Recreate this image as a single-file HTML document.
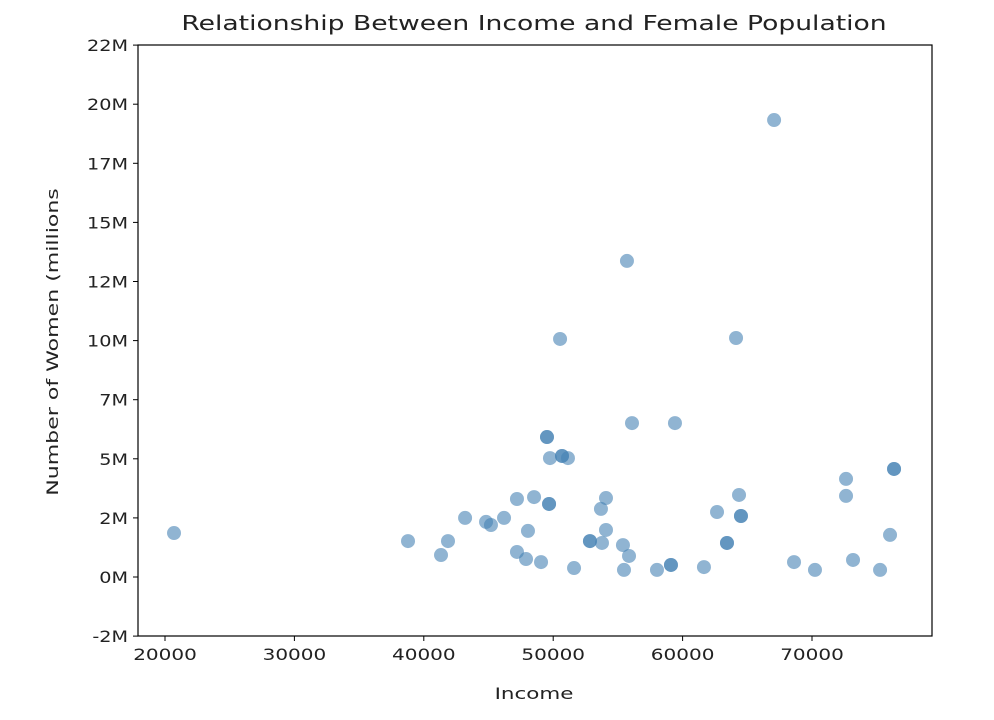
<!DOCTYPE html>
<html><head><meta charset="utf-8"><style>
body{margin:0;background:#fff;font-family:"DejaVu Sans","Liberation Sans",sans-serif;}
</style></head><body>
<svg id="c" width="994" height="720" style="display:block;font-family:'DejaVu Sans','Liberation Sans',sans-serif">
<text transform="translate(534,30) scale(1.33,1)" text-anchor="middle" font-size="20" fill="#222">Relationship Between Income and Female Population</text>
<text transform="translate(58,342) rotate(-90) scale(1.38,1)" text-anchor="middle" font-size="16" fill="#222">Number of Women (millions</text>
<text transform="translate(534,699) scale(1.34,1)" text-anchor="middle" font-size="16" fill="#222">Income</text>
<g id="g"></g>
<rect x="138" y="45" width="794" height="591" fill="none" stroke="#000" stroke-width="1.2"/>
</svg>
<script>
const incomes=[20696,38780,41330,41870,43190,44810,45190,46200,47200,47200,48050,47900,48520,49060,49520,49520,49680,49680,49750,50530,50680,50680,51140,51610,52840,52840,53690,53770,54080,54080,55390,55470,55700,55860,56090,58020,59100,59100,59410,61650,62660,63430,63430,64130,64360,64510,64510,68610,70230,72630,72630,73170,75260,76030,76340,76340,67070];
const women=[1.86,1.52,0.93,1.52,2.50,2.33,2.20,2.50,3.30,1.06,1.95,0.76,3.38,0.63,5.92,5.92,3.09,3.09,5.03,10.07,5.12,5.12,5.03,0.38,1.52,1.52,2.88,1.44,3.34,1.99,1.35,0.30,13.37,0.89,6.51,0.30,0.51,0.51,6.51,0.42,2.75,1.44,1.44,10.11,3.47,2.58,2.58,0.63,0.30,4.15,3.43,0.72,0.30,1.78,4.57,4.57,19.33];
const xTicks=[20000,30000,40000,50000,60000,70000];
const yTicks=[-2.5,0,2.5,5,7.5,10,12.5,15,17.5,20,22.5];
const sx=v=>165+(v-20000)*647/50000;
const sy=v=>577-v*591/25;
const NS="http://www.w3.org/2000/svg";
const g=document.getElementById('g');
function mk(t,a){const e=document.createElementNS(NS,t);for(const k in a)e.setAttribute(k,a[k]);g.appendChild(e);return e;}
xTicks.forEach(t=>{
 const l=mk('line',{x1:sx(t),x2:sx(t),y1:636,y2:641,stroke:'#000'});
 
 
 const tx=mk('text',{transform:'translate('+sx(t)+',660) scale(1.25,1)','text-anchor':'middle','font-size':16,fill:'#222'});
 tx.textContent=t;
 
 
});
yTicks.forEach(t=>{
 const l=mk('line',{x1:133,x2:138,y1:sy(t),y2:sy(t),stroke:'#000'});
 
 
 const tx=mk('text',{transform:'translate(128,'+(sy(t)+6)+') scale(1.2,1)','text-anchor':'end','font-size':16,fill:'#222'});
 tx.textContent=Math.trunc(t)+'M';
 
 
});
incomes.forEach((v,i)=>{
 const c=mk('circle',{cx:sx(v),cy:sy(women[i]),r:7,fill:'#4682b4','fill-opacity':0.6});
 
 
});
</script>
</body></html>
